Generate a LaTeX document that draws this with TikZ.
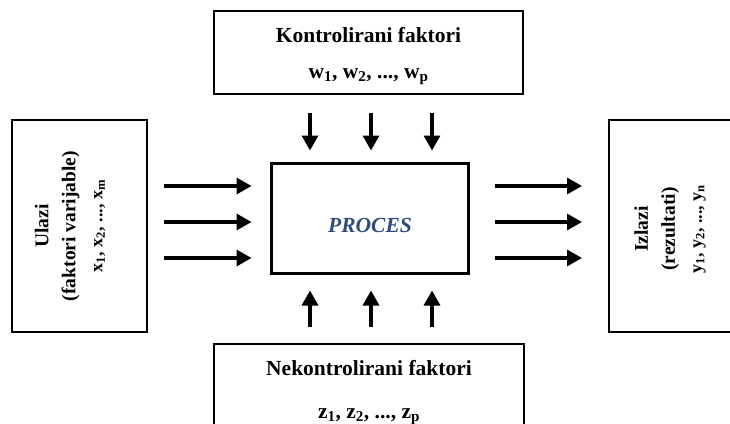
\documentclass[tikz,border=0pt]{standalone}
\usepackage{fontspec}
\setmainfont{Liberation Serif}
\usetikzlibrary{positioning, arrows.meta, calc}
\definecolor{procblue}{HTML}{2F4B7C}

\begin{document}
\begin{tikzpicture}[x=1pt, y=-1pt,
    okvir/.style={draw, line width=2pt, inner sep=0pt},
    naslov/.style={font=\bfseries\fontsize{21.5}{25}\selectfont},
    bocni/.style={rotate=90, align=center, font=\bfseries\fontsize{19.5}{27}\selectfont},
    strelica/.style={line width=3.3pt, -{Triangle[width=16pt,length=15pt]}}]
    \useasboundingbox (0,0) rectangle (730,423);
    \clip (0,0) rectangle (730,423);
    % okviri
    \node[okvir, minimum width=309pt, minimum height=83pt] (kontr) at (368.5,52.5) {};
    \node[okvir, minimum width=135pt, minimum height=212pt] (ulazi) at (79.5,226) {};
    \node[okvir, line width=3pt, minimum width=197pt, minimum height=110pt] (proces) at (369.5,218) {};
    \node[okvir, minimum width=150pt, minimum height=212pt] (izlazi) at (684,226) {};
    \node[okvir, minimum width=310pt, minimum height=120pt] (nekontr) at (369,404) {};
    % tekstovi
    \node[naslov, anchor=base] (kontrt) at (368.5,42) {Kontrolirani faktori};
    \node[naslov, anchor=base] (kontrw) at (368.5,78) {w\textsubscript{1}, w\textsubscript{2}, ..., w\textsubscript{p}};
    \node[naslov, anchor=base] (nekontrt) at (369,375) {Nekontrolirani faktori};
    \node[naslov, anchor=base] (nekontrz) at (369,418) {z\textsubscript{1}, z\textsubscript{2}, ..., z\textsubscript{p}};
    \node[naslov, font=\bfseries\itshape\fontsize{21.5}{25}\selectfont, text=procblue] (procest) at (370,225) {PROCES};
    \node[bocni] (ulazit) at (70,226) {Ulazi\\(faktori varijable)\\{\fontsize{18}{20}\selectfont x\textsubscript{1}, x\textsubscript{2}, ..., x\textsubscript{m}}};
    \node[bocni] (izlazit) at (670,229) {Izlazi\\(rezultati)\\{\fontsize{18}{20}\selectfont y\textsubscript{1}, y\textsubscript{2}, ..., y\textsubscript{n}}};
    % strelice
    \foreach \x in {310,371,432} {
      \draw[strelica, shorten <=18pt, shorten >=11pt] (kontr.south -| \x,0) -- (proces.north -| \x,0);
      \draw[strelica, shorten <=16pt, shorten >=16pt] (nekontr.north -| \x,0) -- (proces.south -| \x,0);
    }
    \foreach \y in {186,222,258} {
      \draw[strelica, shorten <=16pt, shorten >=18pt] (ulazi.east |- 0,\y) -- (proces.west |- 0,\y);
      \draw[strelica, shorten <=25pt, shorten >=26pt] (proces.east |- 0,\y) -- (izlazi.west |- 0,\y);
    }
\end{tikzpicture}
\end{document}
